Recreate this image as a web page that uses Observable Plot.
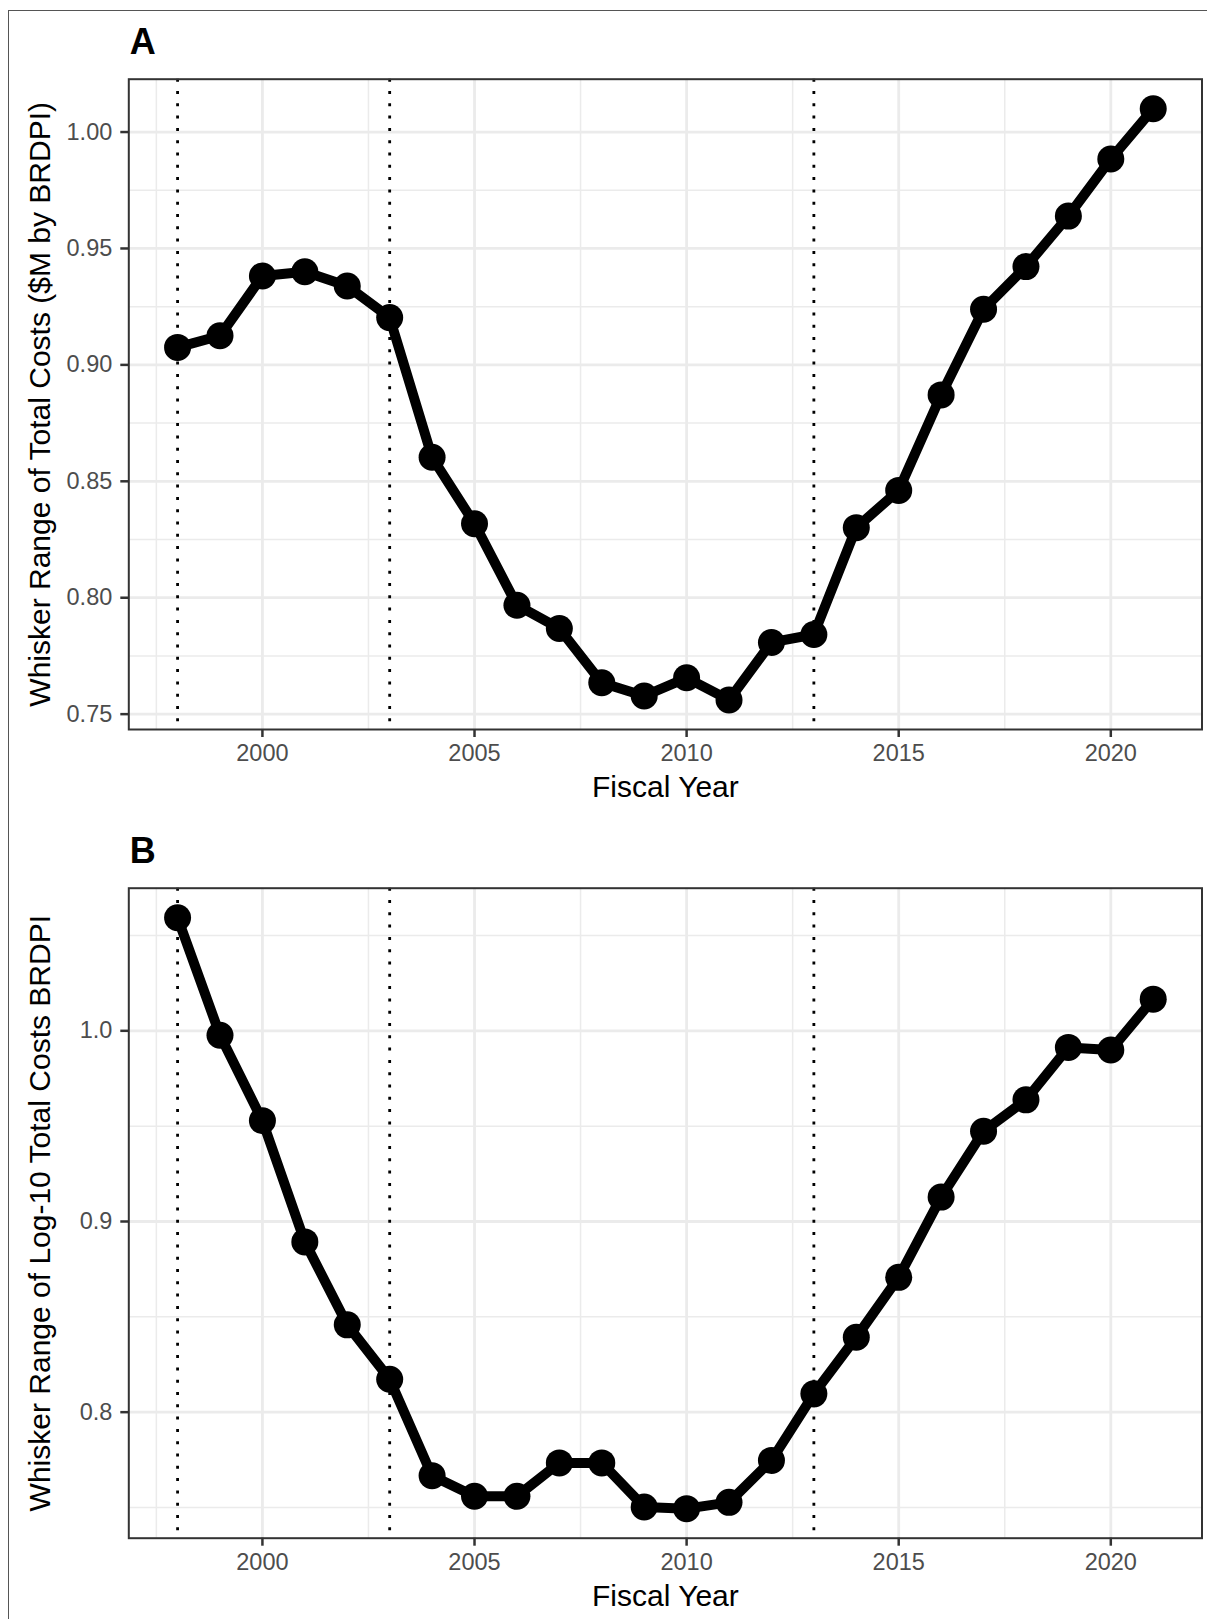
<!DOCTYPE html>
<html><head><meta charset="utf-8">
<script src="https://cdn.jsdelivr.net/npm/d3@7"></script>
<script src="https://cdn.jsdelivr.net/npm/@observablehq/plot@0.6"></script>
<style>
body{margin:0;background:#fff;font-family:"Liberation Sans",Arial,sans-serif}
#wrap{position:relative;width:1207px;height:1619px;overflow:hidden;background:#fff}
#frame{position:absolute;left:8px;top:10px;width:1300px;height:1700px;border:1.5px solid #555;box-sizing:border-box;z-index:2;pointer-events:none}
.panel{position:absolute;left:0}
</style></head><body>
<div id="wrap"><div id="pa" class="panel" style="top:0"></div><div id="pb" class="panel" style="top:810px"></div><div id="frame"></div></div>
<script>
// ---- data ----
const years = [1998,1999,2000,2001,2002,2003,2004,2005,2006,2007,2008,2009,2010,2011,2012,2013,2014,2015,2016,2017,2018,2019,2020,2021];
const rangeA = [0.9075,0.9125,0.9382,0.9400,0.9339,0.9203,0.8603,0.8318,0.7968,0.7868,0.7635,0.7578,0.7656,0.7561,0.7808,0.7842,0.8301,0.8461,0.8871,0.9239,0.9422,0.9639,0.9884,1.0100];
const rangeB = [1.0593,0.9977,0.9529,0.8893,0.8458,0.8173,0.7667,0.7559,0.7559,0.7734,0.7734,0.7503,0.7494,0.7527,0.7747,0.8096,0.8393,0.8707,0.9128,0.9473,0.9638,0.9913,0.9899,1.0166];
const policyYears = [1998,2003,2013];
const xTicks = [2000,2005,2010,2015,2020];
const xMinor = [1997.5,2002.5,2007.5,2012.5,2017.5];
const yTicksA = [0.75,0.80,0.85,0.90,0.95,1.00];
const yMinorA = [0.775,0.825,0.875,0.925,0.975];
const yTicksB = [0.8,0.9,1.0];
const yMinorB = [0.75,0.85,0.95,1.05];
const tagA = "A", tagB = "B";
const xTitle = "Fiscal Year";
const yTitleA = "Whisker Range of Total Costs ($M by BRDPI)";
const yTitleB = "Whisker Range of Log-10 Total Costs BRDPI";

const FONT = '"Liberation Sans", Arial, Helvetica, sans-serif';
const expand = arr => { const lo = d3.min(arr), hi = d3.max(arr), p = (hi - lo) * 0.05; return [lo - p, hi + p]; };

function panel({values, yTicks, yMinor, fmt, tag, yTitle, height, mTop, mBottom}) {
  const data = years.map((y, i) => ({year: y, value: values[i]}));
  return Plot.plot({
    width: 1207, height,
    marginLeft: 128.3, marginRight: 5.5, marginTop: mTop, marginBottom: mBottom,
    style: {fontFamily: FONT, fontSize: "23.5px", color: "#4d4d4d", background: "transparent", overflow: "visible"},
    x: {domain: expand(years), axis: null},
    y: {domain: expand(values), axis: null},
    marks: [
      Plot.ruleX(xMinor, {stroke: "#ebebeb", strokeWidth: 1.5}),
      Plot.ruleY(yMinor, {stroke: "#ebebeb", strokeWidth: 1.5}),
      Plot.ruleX(xTicks, {stroke: "#ebebeb", strokeWidth: 2.8}),
      Plot.ruleY(yTicks, {stroke: "#ebebeb", strokeWidth: 2.8}),
      Plot.ruleX(policyYears, {stroke: "black", strokeWidth: 2.8, strokeDasharray: "3,9.3"}),
      Plot.line(data, {x: "year", y: "value", stroke: "black", strokeWidth: 10, strokeLinejoin: "round"}),
      Plot.dot(data, {x: "year", y: "value", r: 13.5, fill: "black", stroke: "none"}),
      Plot.frame({stroke: "#333", strokeWidth: 2}),
      Plot.axisX(xTicks, {tickSize: 8, tickPadding: 7, tickFormat: d => String(d), stroke: "#333", strokeWidth: 2.5, fill: "#4d4d4d", fontSize: 23.5, label: null}),
      Plot.axisY(yTicks, {tickSize: 8, tickPadding: 8.5, tickFormat: d3.format(fmt), stroke: "#333", strokeWidth: 2.5, fill: "#4d4d4d", fontSize: 23.5, label: null}),
      Plot.text([xTitle], {frameAnchor: "bottom", dy: 58, lineAnchor: "middle", fontSize: 30, fill: "black", text: d => d}),
      Plot.text([yTitle], {frameAnchor: "left", dx: -88, rotate: -90, lineAnchor: "middle", textAnchor: "middle", fontSize: 30, fill: "black", text: d => d}),
      Plot.text([tag], {frameAnchor: "top-left", dx: 1, dy: -37, lineAnchor: "middle", textAnchor: "start", fontSize: 36, fontWeight: "bold", fill: "black", text: d => d})
    ]
  });
}

document.getElementById("pa").appendChild(panel({values: rangeA, yTicks: yTicksA, yMinor: yMinorA, fmt: ".2f", tag: tagA, yTitle: yTitleA, height: 810, mTop: 78.7, mBottom: 81}));
document.getElementById("pb").appendChild(panel({values: rangeB, yTicks: yTicksB, yMinor: yMinorB, fmt: ".1f", tag: tagB, yTitle: yTitleB, height: 809, mTop: 77.7, mBottom: 81.3}));
</script>
</body></html>
